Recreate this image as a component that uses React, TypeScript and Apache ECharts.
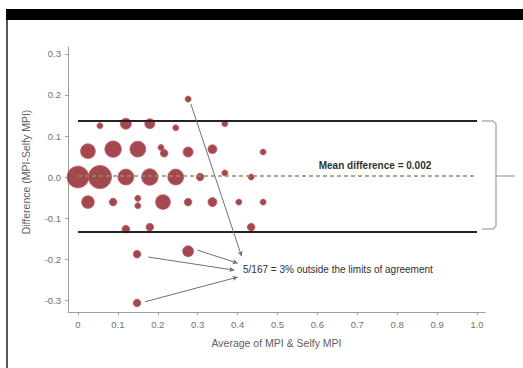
import React, { useEffect, useRef } from "react";
import * as echarts from "echarts";

// [average, difference, number of subjects]
const bubbles: number[][] = [
  [0.276, 0.19, 1],
  [0.055, 0.125, 1], [0.12, 0.13, 5], [0.18, 0.13, 4], [0.245, 0.12, 1], [0.368, 0.13, 1],
  [0.025, 0.063, 10], [0.088, 0.068, 13], [0.15, 0.068, 12], [0.208, 0.072, 1], [0.216, 0.058, 2],
  [0.276, 0.061, 4], [0.337, 0.068, 3], [0.464, 0.061, 1],
  [0, 0, 24], [0.055, 0, 28], [0.12, 0, 12], [0.18, 0, 13], [0.245, 0, 12], [0.306, 0, 2],
  [0.368, 0.01, 1], [0.434, 0, 1],
  [0.025, -0.061, 7], [0.088, -0.061, 2], [0.15, -0.052, 1], [0.15, -0.07, 1], [0.213, -0.061, 10],
  [0.276, -0.061, 2], [0.337, -0.061, 3], [0.403, -0.061, 1], [0.464, -0.061, 1],
  [0.12, -0.127, 2], [0.18, -0.122, 2], [0.434, -0.122, 2],
  [0.148, -0.188, 2], [0.276, -0.181, 5],
  [0.148, -0.307, 2],
];

const meanDiff = 0.002;
const upperLimit = 0.138;
const lowerLimit = -0.134;

const xTicks = [0, 0.1, 0.2, 0.3, 0.4, 0.5, 0.6, 0.7, 0.8, 0.9, 1.0];
const yTicks = [-0.3, -0.2, -0.1, 0, 0.1, 0.2, 0.3];

// annotation arrows: [from x, from y, to x, to y]
const arrows: number[][] = [
  [0.283, 0.178, 0.41, -0.193],
  [0.299, -0.178, 0.4, -0.21],
  [0.176, -0.195, 0.392, -0.227],
  [0.168, -0.304, 0.4, -0.244],
];

const meanLabel = "Mean difference = 0.002";
const outsideLabel = "5/167 = 3% outside the limits of agreement";
const xName = "Average of MPI & Selfy MPI";
const yName = "Difference (MPI-Selfy MPI)";

const FONT = "Liberation Sans, Arial, sans-serif";

export default function App() {
  const ref = useRef<HTMLDivElement>(null);
  useEffect(() => {
    if (!ref.current) return;
    const chart = echarts.init(ref.current, null, { renderer: "svg" });
    chart.setOption({
      animation: false,
      backgroundColor: "#ffffff",
      textStyle: { fontFamily: FONT },
      grid: { left: 68, right: 38, top: 47, bottom: 56 },
      xAxis: {
        type: "value",
        min: -0.025,
        max: 1.02,
        splitLine: { show: false },
        axisLine: { show: true, onZero: false, lineStyle: { color: "#a0a0a0", width: 1 } },
        axisTick: { show: true, customValues: xTicks, length: 3, lineStyle: { color: "#a0a0a0" } },
        axisLabel: {
          customValues: xTicks,
          color: "#707070",
          fontSize: 9.5,
          margin: 7,
          fontFamily: FONT,
          formatter: (v: number) => (v === 0 ? "0" : v.toFixed(1)),
        },
        name: xName,
        nameLocation: "middle",
        nameGap: 25,
        nameTextStyle: { color: "#606060", fontSize: 10.5, fontFamily: FONT },
      },
      yAxis: {
        type: "value",
        min: -0.329,
        max: 0.317,
        splitLine: { show: false },
        axisLine: { show: true, onZero: false, lineStyle: { color: "#a0a0a0", width: 1 } },
        axisTick: { show: true, customValues: yTicks, length: 3, lineStyle: { color: "#a0a0a0" } },
        axisLabel: {
          customValues: yTicks,
          color: "#707070",
          fontSize: 9.5,
          margin: 7,
          fontFamily: FONT,
          formatter: (v: number) => v.toFixed(1),
        },
      },
      graphic: [
        { type: "rect", shape: { x: 6, y: 9, width: 520, height: 11 }, style: { fill: "#000" } },
        { type: "rect", shape: { x: 6, y: 20, width: 2, height: 350 }, style: { fill: "#555" } },
        {
          type: "text",
          x: 26,
          y: 172,
          rotation: Math.PI / 2,
          style: {
            text: yName,
            fill: "#606060",
            fontSize: 10.5,
            fontFamily: FONT,
            align: "center",
            verticalAlign: "middle",
          },
        },
        {
          type: "text",
          x: 375,
          y: 165,
          style: {
            text: meanLabel,
            fill: "#303030",
            fontSize: 10,
            fontWeight: "bold",
            fontFamily: FONT,
            align: "center",
            verticalAlign: "middle",
          },
        },
        {
          type: "text",
          x: 243,
          y: 269,
          style: {
            text: outsideLabel,
            fill: "#303030",
            fontSize: 10,
            fontFamily: FONT,
            align: "left",
            verticalAlign: "middle",
          },
        },
        {
          type: "polyline",
          shape: { points: [[482, 121], [493, 121], [496, 124], [496, 226], [493, 229], [482, 229]] },
          style: { stroke: "#b0b0b0", lineWidth: 1.5, fill: "none" },
        },
        {
          type: "line",
          shape: { x1: 496, y1: 176, x2: 515, y2: 176 },
          style: { stroke: "#b0b0b0", lineWidth: 1.5 },
        },
      ],
      series: [
        {
          type: "scatter",
          data: bubbles,
          symbolSize: (d: number[]) => 2 + 4 * Math.sqrt(d[2]),
          itemStyle: { color: "#8c1a22", borderColor: "#c05a62", borderWidth: 1 },
          z: 2,
          markLine: {
            silent: true,
            animation: false,
            symbol: ["none", "none"],
            label: { show: false },
            data: [
              [
                { coord: [0, upperLimit], lineStyle: { color: "#222", width: 2, type: "solid" } },
                { coord: [1.0, upperLimit] },
              ],
              [
                { coord: [0, lowerLimit], lineStyle: { color: "#222", width: 2, type: "solid" } },
                { coord: [1.0, lowerLimit] },
              ],
              [
                { coord: [0, meanDiff], lineStyle: { color: "#8a955e", width: 1.5, type: [4, 3] } },
                { coord: [1.0, meanDiff] },
              ],
            ],
          },
        },
        {
          type: "scatter",
          data: [],
          z: 3,
          markLine: {
            silent: true,
            animation: false,
            symbol: ["none", "arrow"],
            symbolSize: [4, 5],
            label: { show: false },
            lineStyle: { color: "#707070", width: 1, type: "solid" },
            data: arrows.map((a) => [{ coord: [a[0], a[1]] }, { coord: [a[2], a[3]] }]),
          },
        },
      ],
    });
    return () => chart.dispose();
  }, []);
  return (
    <div
      ref={ref}
      style={{ position: "absolute", left: 0, top: 0, width: 523, height: 368 }}
    />
  );
}
